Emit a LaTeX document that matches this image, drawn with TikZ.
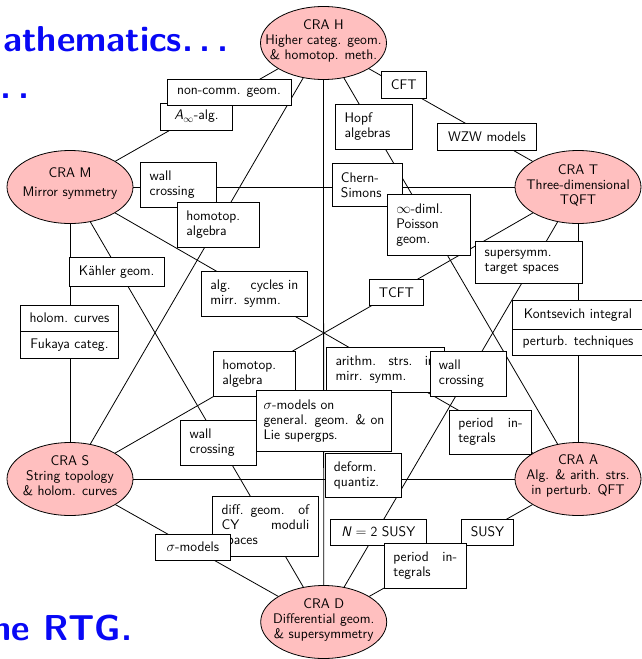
\documentclass[tikz,border=0pt]{standalone}
\usepackage{fontspec}
\usetikzlibrary{shapes.geometric}
\definecolor{crapink}{RGB}{255,191,191}
\definecolor{titleblue}{RGB}{8,8,245}
\begin{document}
\begin{tikzpicture}[x=1pt,y=-1pt,
  every node/.style={font=\fontsize{13.9}{15}\selectfont\sffamily},
  cra/.style={ellipse, draw=black, line width=0.8pt, fill=crapink, minimum width=126pt, minimum height=73pt, inner sep=0pt},
  cratext/.style={align=center, inner sep=0pt},
  lbl/.style={draw=black, line width=0.8pt, fill=white, inner xsep=9pt, inner ysep=0pt, align=center},
  lblw/.style={lbl, align=left},
  edgeline/.style={line width=0.8pt},
  titletext/.style={anchor=base east, inner sep=0pt, text=titleblue, font=\fontsize{36}{40}\selectfont\sffamily\bfseries}
]
\useasboundingbox (0,0) rectangle (642,659);
\clip (0,0) rectangle (642,659);

% background slide text
\node[titletext] (title1) at (228.5,51.7) {Mathematics.\kern0.183em.\kern0.183em.};
\node[titletext] (title2) at (29.5,98.3) {.\kern0.183em.\kern0.183em.};
\node[titletext] (title3) at (132.5,640) {the RTG.};

% CRA ellipses
\node[cra] (H) at (323.5,43) {};
\node[cra] (M) at (70,187) {};
\node[cra] (T) at (578,187) {};
\node[cra] (S) at (70,479) {};
\node[cra] (A) at (578,479) {};
\node[cra] (D) at (323.7,622) {};

% edges
\draw[edgeline] (H) -- (M);
\draw[edgeline] (H) -- (T);
\draw[edgeline] (H) -- (S);
\draw[edgeline] (H) -- (A);
\draw[edgeline] (H) -- (D);
\draw[edgeline] (M) -- (T);
\draw[edgeline] (M) -- (S);
\draw[edgeline] (M) -- (A);
\draw[edgeline] (M) -- (D);
\draw[edgeline] (T) -- (S);
\draw[edgeline] (T) -- (A);
\draw[edgeline] (T) -- (D);
\draw[edgeline] (S) -- (A);
\draw[edgeline] (S) -- (D);
\draw[edgeline] (A) -- (D);

% ellipse texts
\node[cratext] (Ht) at (323.5,40.5) {CRA H\\Higher categ. geom.\\\& homotop. meth.};
\node[cratext] (Mt) at (70,184) {CRA M\\[4pt]Mirror symmetry};
\node[cratext] (Tt) at (578,185) {CRA T\\Three-dimensional\\TQFT};
\node[cratext] (St) at (70,475.5) {CRA S\\String topology\\\& holom. curves};
\node[cratext] (At) at (578,475.5) {CRA A\\Alg. \& arith. strs.\\in perturb. QFT};
\node[cratext] (Dt) at (323.7,620) {CRA D\\Differential geom.\\\& supersymmetry};

% labels H-M
\node[lbl, minimum width=71.6pt, minimum height=27pt] (ainf) at (196.5,116.5) {\textit{A}$_\infty$-alg.};
\node[lbl, minimum width=124pt, minimum height=26pt] (ncg) at (229,92.5) {non-comm. geom.};
% H-T
\node[lbl, minimum width=44.3pt, minimum height=27.5pt] (cft) at (403.8,85) {CFT};
\node[lbl, minimum width=99.4pt, minimum height=27pt] (wzw) at (487,136.7) {WZW models};
% H-A
\node[lblw, minimum width=76.6pt, minimum height=45pt, text width=58.6pt] (hopf) at (374,126.8) {Hopf\\algebras};
% M-T
\node[lblw, minimum width=76pt, minimum height=44.6pt, text width=58pt] (wallMT) at (178.7,185) {wall\\crossing};
\node[lblw, minimum width=70.7pt, minimum height=43pt, text width=52.7pt] (chern) at (367.3,185) {Chern-\\Simons};
% H-S
\node[lblw, minimum width=82pt, minimum height=45pt, text width=64pt] (homotopHS) at (218.3,224.8) {homotop.\\algebra};
% H-A
\node[lblw, minimum width=83.4pt, minimum height=61pt, text width=65.4pt] (poisson) at (429,224.8) {$\infty$-diml.\\Poisson\\geom.};
% M-D
\node[lbl, minimum width=95.3pt, minimum height=28.3pt] (kahler) at (116.7,271.8) {Kähler geom.};
% M-A
\node[lblw, minimum width=106pt, minimum height=45pt, text width=88pt] (algcyc) at (254.3,293.5) {alg.\hfill cycles in\\mirr. symm.};
% T-D
\node[lblw, minimum width=106.3pt, minimum height=42pt, text width=88.3pt] (susytarget) at (528.8,262.2) {supersymm.\\target spaces};
% T-S
\node[lbl, minimum width=54pt, minimum height=26.4pt] (tcft) at (396.3,292.5) {TCFT};
% M-S
\node[lbl, minimum width=97.6pt, minimum height=26pt] (holom) at (69.5,318) {holom. curves};
\node[lbl, minimum width=97.6pt, minimum height=27.7pt] (fukaya) at (69.5,344.8) {Fukaya categ.};
% T-A
\node[lbl, minimum width=131.4pt, minimum height=28.3pt] (kontsevich) at (578,315) {Kontsevich integral};
\node[lbl, minimum width=131.4pt, minimum height=26pt] (perturb) at (578,342.3) {perturb. techniques};
% T-S
\node[lblw, minimum width=82.4pt, minimum height=45pt, text width=64.4pt] (homotopTS) at (254.5,373.5) {homotop.\\algebra};
% M-A
\node[lblw, minimum width=117.3pt, minimum height=45.4pt, text width=99.3pt] (arithm) at (385.3,370) {arithm.\hfill strs.\hfill in\\mirr. symm.};
% T-D
\node[lblw, minimum width=76.7pt, minimum height=44.3pt, text width=58.7pt] (wallTD) at (468.3,373.8) {wall\\crossing};
% M-A
\node[lblw, minimum width=82.4pt, minimum height=44pt, text width=64.4pt] (periodMA) at (490.5,432) {period\hfill in-\\tegrals};
% M-D
\node[lblw, minimum width=76pt, minimum height=45.3pt, text width=58pt] (wallMD) at (218.7,442.7) {wall\\crossing};
% H-D
\node[lblw, inner xsep=7.5pt, minimum width=135.3pt, minimum height=60.3pt, text width=120.3pt] (sigmagen) at (323.7,420.8) {$\sigma$-models on\\\mbox{general. geom. \& on}\\Lie supergps.};
% S-A
\node[lblw, minimum width=76.7pt, minimum height=44.4pt, text width=58.7pt] (deform) at (363.3,475.5) {deform.\\quantiz.};
% M-D
\node[lblw, minimum width=105.6pt, minimum height=60.7pt, text width=87.6pt] (diffgeom) at (265.5,526.3) {diff. geom.\hfill of\\CY\hfill moduli\\spaces};
% S-D
\node[lbl, minimum width=74.3pt, minimum height=26pt] (sigmamod) at (192.8,547) {$\sigma$-models};
% T-D
\node[lbl, minimum width=96.7pt, minimum height=26pt] (ntwo) at (378.3,532) {\textit{N}${}={}$2 SUSY};
% A-D
\node[lbl, minimum width=51.6pt, minimum height=26pt] (susy) at (487.5,532) {SUSY};
\node[lblw, minimum width=81.7pt, minimum height=45pt, text width=63.7pt] (periodAD) at (425.2,565.8) {period\hfill in-\\tegrals};
\end{tikzpicture}
\end{document}
